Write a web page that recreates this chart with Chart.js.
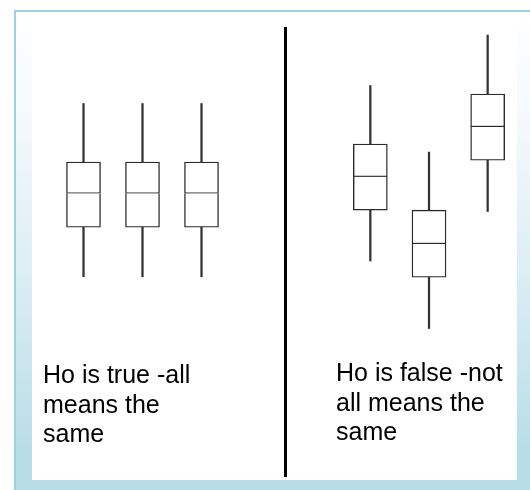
<!DOCTYPE html>
<html>
<head>
<meta charset="utf-8">
<script src="https://cdn.jsdelivr.net/npm/chart.js@4"></script>
<style>
  html, body { margin: 0; padding: 0; background: #fff; }
  #pagina { position: relative; width: 530px; height: 490px; overflow: hidden; }
  #moldura {
    position: absolute; left: 14px; top: 10px; width: 516px; height: 480px;
    border-top: 2px solid #9dd1df; border-left: 2px solid #9dd1df; box-sizing: border-box;
    background: linear-gradient(to bottom, #ffffff 0%, #f2f8fb 25%, #dcedf4 55%, #b8dde6 92%, #b8dde6 100%);
  }
  #branco { position: absolute; left: 32px; top: 12px; width: 485px; height: 468px; background: #fff; }
  #divisoria { position: absolute; left: 284px; top: 27px; width: 3px; height: 450px; background: #000; }
  canvas { position: absolute; top: 27px; }
  #grafico-verdadeiro { left: 54px; }
  #grafico-falso { left: 341px; }
  .texto {
    position: absolute; font-family: "Liberation Sans", Arial, sans-serif;
    font-size: 25px; line-height: 29.5px; color: #000; white-space: nowrap;
  }
  #texto-verdadeiro { left: 43px; top: 360px; }
  #texto-falso { left: 336px; top: 358px; }
</style>
</head>
<body>
<div id="pagina">
  <div id="moldura"></div>
  <div id="branco"></div>
  <div id="divisoria"></div>
  <canvas id="grafico-verdadeiro" width="177" height="450"></canvas>
  <canvas id="grafico-falso" width="176" height="450"></canvas>
  <div class="texto" id="texto-verdadeiro">Ho is true -all<br>means the<br>same</div>
  <div class="texto" id="texto-falso">Ho is false -not<br>all means the<br>same</div>
</div>
<script>
// grupos (sem rotulos visiveis)
const grupos = ['A', 'B', 'C']

// Ho verdadeiro: as tres medias iguais
const verdadeiroMinimo = [44.5, 44.5, 44.5]
const verdadeiroQ1 = [55.5, 55.5, 55.5]
const verdadeiroMediana = [63, 63, 63]
const verdadeiroQ3 = [70, 70, 70]
const verdadeiroMaximo = [83, 83, 83]

// Ho falso: medias diferentes
const falsoMinimo = [48, 33, 59]
const falsoQ1 = [59.3, 44.4, 70.4]
const falsoMediana = [66.7, 51.8, 77.8]
const falsoQ3 = [74, 59.3, 85.1]
const falsoMaximo = [87, 72.2, 98.2]

function intervalos(baixo, alto) {
  return baixo.map((valor, i) => [valor, alto[i]])
}

function gerandoBoxplot(id, minimo, q1, mediana, q3, maximo) {
  let grafico = document.querySelector(id).getContext("2d")
  const caixa = {
    barThickness: 34,
    borderWidth: 1.4,
    borderColor: '#2b2b2b',
    backgroundColor: '#fff'
  }
  const bigode = {
    barThickness: 1.6,
    borderWidth: 0,
    backgroundColor: '#333'
  }
  return new Chart(grafico, {
    type: 'bar',
    data: {
      labels: grupos,
      datasets: [
        { label: 'bigode inferior', data: intervalos(minimo, q1), ...bigode },
        { label: 'bigode superior', data: intervalos(q3, maximo), ...bigode },
        // a metade de baixo nao desenha a borda de cima, assim a mediana fica com uma linha so
        { label: 'caixa inferior', data: intervalos(q1, mediana), ...caixa, borderSkipped: 'end' },
        { label: 'caixa superior', data: intervalos(mediana, q3), ...caixa, borderSkipped: false }
      ]
    },
    options: {
      responsive: false,
      animation: false,
      devicePixelRatio: 1,
      layout: { padding: 0 },
      datasets: { bar: { grouped: false } },
      plugins: { legend: { display: false }, tooltip: { enabled: false } },
      scales: {
        x: { display: false, offset: true },
        y: { display: false, min: 0, max: 100 }
      }
    }
  })
}

gerandoBoxplot("#grafico-verdadeiro", verdadeiroMinimo, verdadeiroQ1, verdadeiroMediana, verdadeiroQ3, verdadeiroMaximo)
gerandoBoxplot("#grafico-falso", falsoMinimo, falsoQ1, falsoMediana, falsoQ3, falsoMaximo)
</script>
</body>
</html>
